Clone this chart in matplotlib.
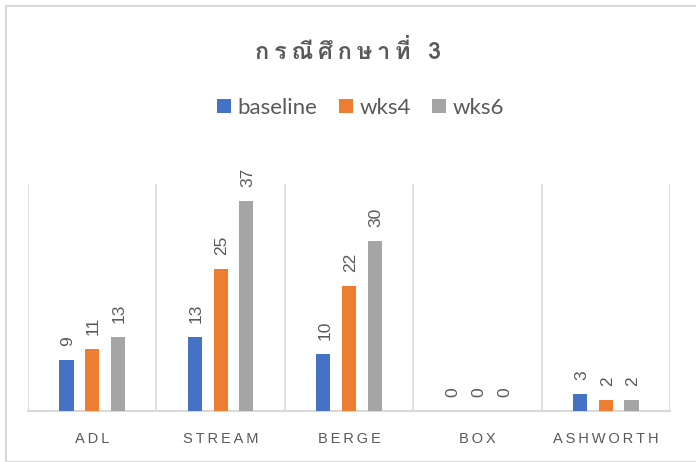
import matplotlib
matplotlib.use("Agg")
import matplotlib.pyplot as plt
from matplotlib import font_manager
from matplotlib.ft2font import FT2Font
from matplotlib.patches import Rectangle
import numpy as np

categories = ["ADL", "STREAM", "BERGE", "BOX", "ASHWORTH"]
series_names = ["baseline", "wks4", "wks6"]
baseline = [9, 13, 10, 0, 3]
wks4 = [11, 25, 22, 0, 2]
wks6 = [13, 37, 30, 0, 2]
title = "กรณีศึกษาที่ 3"

colors = ["#4472C4", "#ED7D31", "#A5A5A5"]
txt = "#595959"

# find a font with Thai glyphs
thai_font = None
for f in font_manager.fontManager.ttflist:
    try:
        cm = FT2Font(f.fname).get_charmap()
        if 0x0E01 in cm and 0x0E13 in cm:
            thai_font = f.name
            break
    except Exception:
        pass
title_family = [thai_font, "DejaVu Sans"] if thai_font else ["DejaVu Sans"]


def spaced(s, sep="\u2009"):
    combining = set([0x0E31] + list(range(0x0E34, 0x0E3B)) + list(range(0x0E47, 0x0E4F)))
    out = ""
    for i, ch in enumerate(s):
        if i > 0 and ord(ch) not in combining:
            out += sep
        out += ch
    return out


W, H = 696, 462
fig = plt.figure(figsize=(W / 100, H / 100), dpi=100)
fig.patches.append(Rectangle((6 / W, 0), 1, 1 - 6 / H, transform=fig.transFigure,
                             fill=False, edgecolor="#D9D9D9", linewidth=1.5))

left, right, top, bottom = 28, 670, 184, 411
ax = fig.add_axes([left / W, 1 - bottom / H, (right - left) / W, (bottom - top) / H])

x = np.arange(len(categories))
offs = [-0.2, 0.0, 0.2]
bw = 0.11
for vals, name, c, o in zip([baseline, wks4, wks6], series_names, colors, offs):
    ax.bar(x + o, vals, bw, color=c, label=name, zorder=3)
    for xi, v in zip(x + o, vals):
        ax.annotate(str(v), (xi, v), xytext=(1, 10), textcoords="offset points",
                    rotation=90, ha="center", va="bottom",
                    fontsize=12.5, color=txt, family="Liberation Sans")

ax.set_xlim(-0.5, len(categories) - 0.5)
ax.set_ylim(0, 40)
for b in np.arange(-0.5, len(categories), 1.0):
    ax.axvline(b, color="#D9D9D9", linewidth=1.2, zorder=1)
for s in ["top", "right", "left"]:
    ax.spines[s].set_visible(False)
ax.spines["bottom"].set_color("#D9D9D9")
ax.spines["bottom"].set_linewidth(1.5)
ax.set_yticks([])
ax.set_xticks(x)
ax.set_xticklabels([spaced(c) for c in categories],
                   fontsize=10.5, color=txt, family="Liberation Sans")
ax.tick_params(axis="x", length=0, pad=15)

fig.text(0.5, 1 - 52 / H, spaced(title), ha="center", va="center", fontsize=17,
         fontweight="bold", color=txt, family=title_family)
leg = fig.legend(loc="center", bbox_to_anchor=(0.518, 1 - 108 / H), ncol=3, frameon=False,
                 handlelength=0.62, handleheight=0.62, handletextpad=0.3,
                 columnspacing=0.95, prop={"family": "Lato", "size": 16})
for t in leg.get_texts():
    t.set_color(txt)

fig.savefig("out.png", dpi=100)
